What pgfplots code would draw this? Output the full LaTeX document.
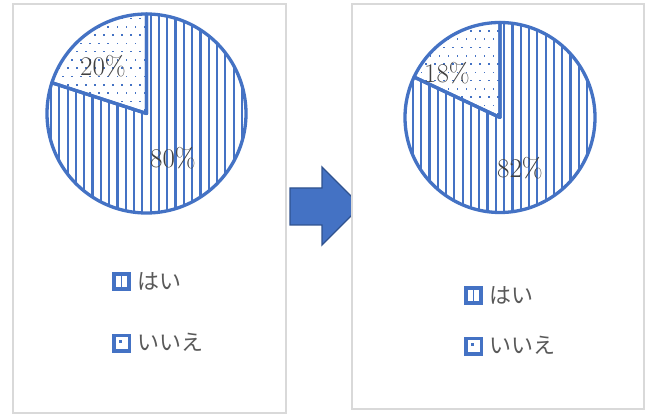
\documentclass[border=0pt]{standalone}
\usepackage{pgfplots}
\pgfplotsset{compat=1.18}
\usepackage{fontspec}
\newfontfamily\jp{Noto Sans CJK JP}
\definecolor{pieblue}{HTML}{4472C4}
\definecolor{arrowedge}{HTML}{2F528F}
\definecolor{boxgray}{HTML}{D9D9D9}
\definecolor{txtgray}{HTML}{404040}
\definecolor{lgdgray}{HTML}{595959}

% data (percent)
\def\yesA{80}\def\noA{20}
\def\yesB{82}\def\noB{18}

\tikzset{lbl/.style={text=txtgray, font=\fontsize{27}{30}\selectfont}}
\pgfplotsset{
  pieaxis/.style={hide axis, scale only axis, anchor=south west, clip=false,
    xmin=-1, xmax=1, ymin=-1, ymax=1, legend cell align=left},
  lgd/.style={legend style={at={#1}, anchor=north west, draw=none, fill=none,
    inner sep=0pt, font=\jp\fontsize{22}{22}\selectfont, text=lgdgray,
    /tikz/every odd column/.append style={column sep=5pt}}},
  yesimg/.style={legend image code/.code={
      \fill[pieblue] (0pt,-9pt) rectangle (18pt,9pt);
      \fill[white] (4pt,-5pt) rectangle (7.5pt,5.5pt);
      \fill[white] (10pt,-5pt) rectangle (13.5pt,5.5pt);}},
  noimg/.style={legend image code/.code={
      \fill[pieblue] (0pt,-9pt) rectangle (18pt,9pt);
      \fill[white] (3.5pt,-5.5pt) rectangle (14.5pt,5.5pt);
      \fill[pieblue] (7pt,1pt) rectangle (9pt,3pt);}},
  wedge/.style={draw=pieblue, line width=3.3pt, line join=round, samples=200, forget plot},
}

\begin{document}
\begin{tikzpicture}[x=1pt,y=1pt]
\useasboundingbox (0,0) rectangle (650,415);
% arrow
\filldraw[fill=pieblue, draw=arrowedge, line width=1.3pt, line join=miter]
  (290,227) -- (322,227) -- (322,248) -- (361,209) -- (322,170) -- (322,190) -- (290,190) -- cycle;
% boxes
\filldraw[fill=white, draw=boxgray, line width=1.5pt] (13,2) rectangle (286,411);
\filldraw[fill=white, draw=boxgray, line width=1.5pt] (352,6) rectangle (644,411);

% ---------- left pie (radius 99.5pt) ----------
\begin{axis}[pieaxis, width=199pt, height=199pt, at={(47pt,202pt)},
  lgd={(0.327,-0.286)}, legend style={row sep=39pt}]
  % vertical hatching of the "yes" wedge
  \begin{scope}
    \clip (axis cs:0,0) -- (axis cs:0,1) arc[start angle=90, delta angle={-3.6*\yesA}, radius=99.5pt] -- cycle;
    \pgfplotsinvokeforeach{-12,...,12}{
      \fill[pieblue] (axis cs:{(#1+0.5)*0.0834-0.011},-1.1) rectangle (axis cs:{(#1+0.5)*0.0834+0.011},1.1);}
  \end{scope}
  % dotted fill of the "no" wedge
  \begin{scope}
    \clip (axis cs:0,0) -- (axis cs:0,1) arc[start angle=90, delta angle={3.6*\noA}, radius=99.5pt] -- cycle;
    \pgfplotsinvokeforeach{0,...,168}{
      \fill[pieblue] (axis cs:{-mod(#1,13)*0.0905+mod(floor(#1/13),2)*0.0452-0.03},{floor(#1/13)*0.0834+0.03}) rectangle +(1.6pt,1.6pt);}
  \end{scope}
  \addplot[wedge, domain={90-3.6*\yesA}:90] ({cos(x)},{sin(x)}) -- (axis cs:0,0) -- cycle;
  \addplot[wedge, domain=90:{90+3.6*\noA}] ({cos(x)},{sin(x)}) -- (axis cs:0,0) -- cycle;
  \addlegendimage{yesimg}\addlegendentry{はい}
  \addlegendimage{noimg}\addlegendentry{いいえ}
  \node[lbl] at (axis cs:-0.437,0.477) {\noA\%};
  \node[lbl] at (axis cs:0.266,-0.447) {\yesA\%};
\end{axis}

% ---------- right pie (radius 95pt) ----------
\begin{axis}[pieaxis, width=190pt, height=190pt, at={(405pt,202.5pt)},
  lgd={(0.31,-0.376)}, legend style={row sep=28pt}]
  \begin{scope}
    \clip (axis cs:0,0) -- (axis cs:0,1) arc[start angle=90, delta angle={-3.6*\yesB}, radius=95pt] -- cycle;
    \pgfplotsinvokeforeach{-12,...,12}{
      \fill[pieblue] (axis cs:{(#1+0.5)*0.0874-0.0115},-1.1) rectangle (axis cs:{(#1+0.5)*0.0874+0.0115},1.1);}
  \end{scope}
  \begin{scope}
    \clip (axis cs:0,0) -- (axis cs:0,1) arc[start angle=90, delta angle={3.6*\noB}, radius=95pt] -- cycle;
    \pgfplotsinvokeforeach{0,...,168}{
      \fill[pieblue] (axis cs:{-mod(#1,13)*0.0947+mod(floor(#1/13),2)*0.0474-0.03},{floor(#1/13)*0.0874+0.03}) rectangle +(1.6pt,1.6pt);}
  \end{scope}
  \addplot[wedge, domain={90-3.6*\yesB}:90] ({cos(x)},{sin(x)}) -- (axis cs:0,0) -- cycle;
  \addplot[wedge, domain=90:{90+3.6*\noB}] ({cos(x)},{sin(x)}) -- (axis cs:0,0) -- cycle;
  \addlegendimage{yesimg}\addlegendentry{はい}
  \addlegendimage{noimg}\addlegendentry{いいえ}
  \node[lbl] at (axis cs:-0.558,0.468) {\noB\%};
  \node[lbl] at (axis cs:0.21,-0.53) {\yesB\%};
\end{axis}
\end{tikzpicture}
\end{document}
